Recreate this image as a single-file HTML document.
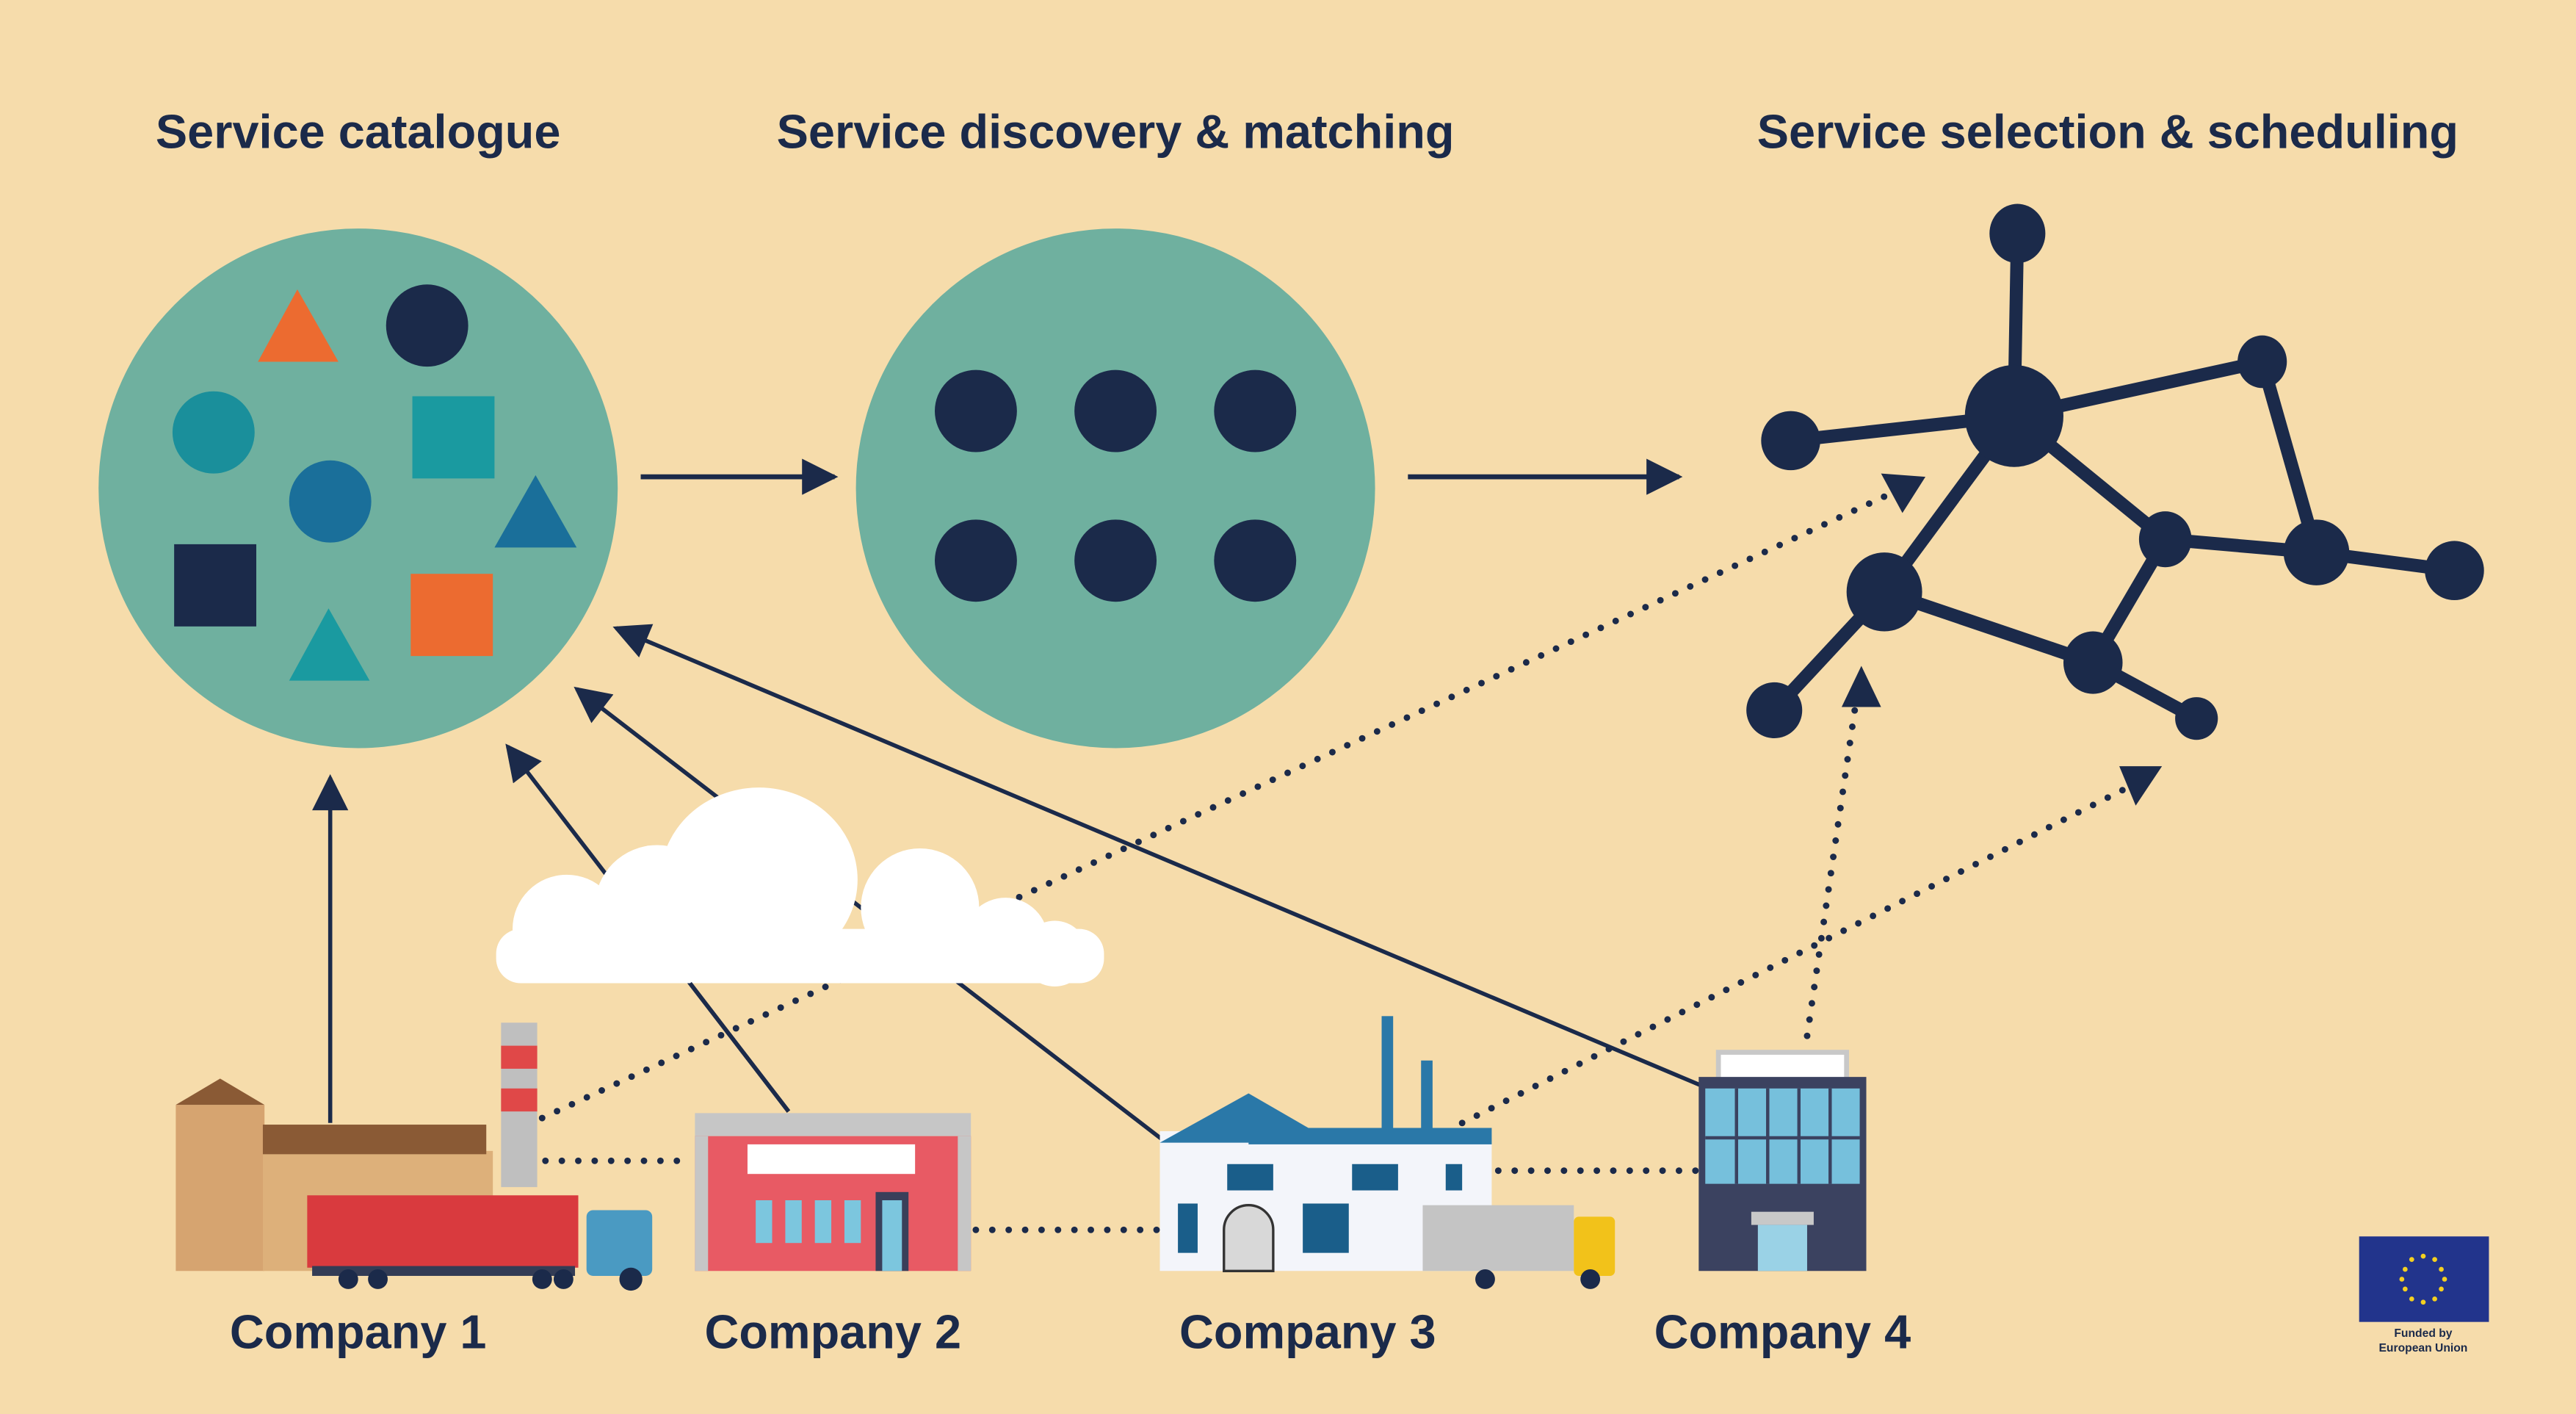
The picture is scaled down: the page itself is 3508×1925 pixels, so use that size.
<!DOCTYPE html>
<html><head><style>
html,body{margin:0;padding:0;background:#f6dcab;}
svg{display:block}
text{font-family:"Liberation Sans",sans-serif;font-weight:bold;fill:#1b2a4a}
</style></head><body>
<svg width="3508" height="1925" viewBox="0 0 1568 860" preserveAspectRatio="none" xmlns="http://www.w3.org/2000/svg">
<rect width="1568" height="860" fill="#f6dcab"/>
<defs>
<marker id="ah" viewBox="0 0 10 10" refX="9" refY="5" markerWidth="26" markerHeight="22" markerUnits="userSpaceOnUse" orient="auto"><path d="M0,0L10,5L0,10z" fill="#1b2a4a"/></marker>
<marker id="ab" viewBox="0 0 10 10" refX="8" refY="5" markerWidth="10" markerHeight="10" orient="auto"><path d="M0,0L10,5L0,10z" fill="#1b2a4a"/></marker>
</defs>
<text x="218" y="90" font-size="29" text-anchor="middle">Service catalogue</text>
<text x="679" y="90" font-size="29" text-anchor="middle">Service discovery &amp; matching</text>
<text x="1283" y="90" font-size="29" text-anchor="middle">Service selection &amp; scheduling</text>

<circle cx="218" cy="297" r="158" fill="#6fb09f"/>
<circle cx="679" cy="297" r="158" fill="#6fb09f"/>
<polygon points="181,176 157,220 206,220" fill="#ec6b30"/>
<circle cx="260" cy="198" r="25" fill="#1b2a4a"/>
<circle cx="130" cy="263" r="25" fill="#1a8f9b"/>
<rect x="251" y="241" width="50" height="50" fill="#1a9aa0"/>
<circle cx="201" cy="305" r="25" fill="#1a6f9a"/>
<polygon points="326,289 301,333 351,333" fill="#1a6f9a"/>
<rect x="106" y="331" width="50" height="50" fill="#1b2a4a"/>
<polygon points="200,370 176,414 225,414" fill="#1a9aa0"/>
<rect x="250" y="349" width="50" height="50" fill="#ec6b30"/>
<g fill="#1b2a4a">
<circle cx="594" cy="250" r="25"/><circle cx="679" cy="250" r="25"/><circle cx="764" cy="250" r="25"/>
<circle cx="594" cy="341" r="25"/><circle cx="679" cy="341" r="25"/><circle cx="764" cy="341" r="25"/>
</g>
<g stroke="#1b2a4a" stroke-width="3" fill="none">
<line x1="390" y1="290" x2="508" y2="290" marker-end="url(#ah)"/>
<line x1="857" y1="290" x2="1022" y2="290" marker-end="url(#ah)"/>
</g>
<!-- network -->
<g stroke="#1b2a4a" stroke-width="8">
<line x1="1226" y1="253" x2="1228" y2="142"/><line x1="1226" y1="253" x2="1090" y2="268"/>
<line x1="1226" y1="253" x2="1377" y2="220"/><line x1="1226" y1="253" x2="1318" y2="328"/>
<line x1="1226" y1="253" x2="1147" y2="360"/><line x1="1377" y1="220" x2="1410" y2="336"/>
<line x1="1318" y1="328" x2="1410" y2="336"/><line x1="1410" y1="336" x2="1494" y2="347"/>
<line x1="1318" y1="328" x2="1274" y2="403"/><line x1="1147" y1="360" x2="1274" y2="403"/>
<line x1="1147" y1="360" x2="1080" y2="432"/><line x1="1274" y1="403" x2="1337" y2="437"/>
</g>
<g fill="#1b2a4a">
<ellipse cx="1228" cy="142" rx="17" ry="18"/><ellipse cx="1226" cy="253" rx="30" ry="31"/>
<ellipse cx="1090" cy="268" rx="18" ry="18"/><ellipse cx="1377" cy="220" rx="15" ry="16"/>
<ellipse cx="1318" cy="328" rx="16" ry="17"/><ellipse cx="1410" cy="336" rx="20" ry="20"/>
<ellipse cx="1494" cy="347" rx="18" ry="18"/><ellipse cx="1147" cy="360" rx="23" ry="24"/>
<ellipse cx="1080" cy="432" rx="17" ry="17"/><ellipse cx="1274" cy="403" rx="18" ry="19"/>
<ellipse cx="1337" cy="437" rx="13" ry="13"/>
</g>
<!-- connectors -->
<g stroke="#1b2a4a" stroke-width="2.5" fill="none">
<line x1="201" y1="683" x2="201" y2="473" marker-end="url(#ah)"/>
<line x1="480" y1="676" x2="309" y2="454" marker-end="url(#ah)"/>
<line x1="710" y1="695" x2="351" y2="419" marker-end="url(#ah)"/>
<line x1="1035" y1="660" x2="375" y2="382" marker-end="url(#ah)"/>
</g>
<g stroke="#1b2a4a" stroke-width="4" stroke-linecap="round" stroke-dasharray="0 10" fill="none">
<line x1="330" y1="680" x2="1160" y2="296"/>
<line x1="890" y1="683" x2="1305" y2="474"/>
<line x1="1100" y1="630" x2="1131" y2="418"/>
<line x1="332" y1="706" x2="420" y2="706"/>
<line x1="594" y1="748" x2="705" y2="748"/>
<line x1="912" y1="712" x2="1033" y2="712"/>
</g>
<g fill="#1b2a4a">
<polygon points="1145,288 1172,290 1158,312"/>
<polygon points="1290,466 1316,466 1300,490"/>
<polygon points="1121,430 1133,405 1145,430"/>
</g>
<!-- cloud -->
<g fill="#fff">
<ellipse cx="462" cy="535" rx="60" ry="56"/><circle cx="560" cy="552" r="36"/><circle cx="400" cy="552" r="38"/>
<circle cx="345" cy="565" r="33"/><circle cx="612" cy="572" r="26"/><circle cx="642" cy="580" r="20"/>
<rect x="302" y="565" width="370" height="33" rx="15"/>
</g>
<line x1="480" y1="676" x2="420" y2="598" stroke="#1b2a4a" stroke-width="2.5"/>
<!-- Company 1 -->
<rect x="107" y="672" width="54" height="101" fill="#d6a470"/>
<polygon points="107,672 134,656 161,672" fill="#8a5a35"/>
<rect x="160" y="700" width="140" height="73" fill="#ddb07a"/>
<rect x="160" y="684" width="136" height="18" fill="#8a5a35"/>
<rect x="305" y="622" width="22" height="100" fill="#bfbfbf"/>
<rect x="305" y="636" width="22" height="14" fill="#e04848"/><rect x="305" y="662" width="22" height="14" fill="#e04848"/>
<rect x="187" y="727" width="165" height="44" fill="#d93a3e"/>
<rect x="190" y="770" width="160" height="6" fill="#333c55"/>
<rect x="357" y="736" width="40" height="40" rx="4" fill="#4a9ac2"/>
<g fill="#1b2a4a"><circle cx="212" cy="778" r="6"/><circle cx="230" cy="778" r="6"/><circle cx="330" cy="778" r="6"/><circle cx="343" cy="778" r="6"/><circle cx="384" cy="778" r="7"/></g>
<!-- Company 2 -->
<rect x="423" y="677" width="168" height="14" fill="#c6c6c6"/>
<rect x="423" y="691" width="168" height="82" fill="#e85a64"/>
<rect x="423" y="691" width="8" height="82" fill="#c6c6c6"/><rect x="583" y="691" width="8" height="82" fill="#c6c6c6"/>
<rect x="455" y="696" width="102" height="18" fill="#fff"/>
<g fill="#7cc6de"><rect x="460" y="730" width="10" height="26"/><rect x="478" y="730" width="10" height="26"/><rect x="496" y="730" width="10" height="26"/><rect x="514" y="730" width="10" height="26"/></g>
<rect x="533" y="725" width="20" height="48" fill="#3a3f5a"/><rect x="537" y="730" width="12" height="43" fill="#7cc6de"/>
<!-- Company 3 -->
<rect x="841" y="618" width="7" height="70" fill="#2a78a8"/><rect x="865" y="645" width="7" height="43" fill="#2a78a8"/>
<rect x="706" y="688" width="202" height="85" fill="#f3f5fa"/>
<polygon points="706,695 760,665 812,695" fill="#2a78a8"/>
<rect x="760" y="686" width="148" height="10" fill="#2a78a8"/>
<g fill="#1a5e8a"><rect x="747" y="708" width="28" height="16"/><rect x="823" y="708" width="28" height="16"/><rect x="880" y="708" width="10" height="16"/><rect x="717" y="732" width="12" height="30"/><rect x="793" y="732" width="28" height="30"/></g>
<path d="M745,773V748a15,15 0 0 1 30,0V773z" fill="#d8d8d8" stroke="#333" stroke-width="1.5"/>
<rect x="866" y="733" width="92" height="40" fill="#c4c4c4"/>
<rect x="958" y="740" width="25" height="36" rx="3" fill="#f2c21a"/>
<g fill="#1b2a4a"><circle cx="904" cy="778" r="6"/><circle cx="968" cy="778" r="6"/></g>
<!-- Company 4 -->
<rect x="1046" y="640" width="78" height="18" fill="#fff" stroke="#c8c8c8" stroke-width="3"/>
<rect x="1034" y="655" width="102" height="118" fill="#3b4260"/>
<rect x="1038" y="662" width="94" height="58" fill="#76c0dc"/>
<g stroke="#3b4260" stroke-width="2"><line x1="1057" y1="662" x2="1057" y2="720"/><line x1="1076" y1="662" x2="1076" y2="720"/><line x1="1095" y1="662" x2="1095" y2="720"/><line x1="1114" y1="662" x2="1114" y2="720"/><line x1="1038" y1="692" x2="1132" y2="692"/></g>
<rect x="1066" y="737" width="38" height="8" fill="#c8c8c8"/><rect x="1070" y="745" width="30" height="28" fill="#9ad2e6"/>
<text x="218" y="820" font-size="29" text-anchor="middle">Company 1</text>
<text x="507" y="820" font-size="29" text-anchor="middle">Company 2</text>
<text x="796" y="820" font-size="29" text-anchor="middle">Company 3</text>
<text x="1085" y="820" font-size="29" text-anchor="middle">Company 4</text>
<!-- EU -->
<rect x="1436" y="752" width="79" height="52" fill="#22348c"/>
<g fill="#f4d020">
<circle cx="1475" cy="764" r="1.5"/><circle cx="1482" cy="766" r="1.5"/><circle cx="1486" cy="772" r="1.5"/><circle cx="1488" cy="778" r="1.5"/><circle cx="1486" cy="784" r="1.5"/><circle cx="1482" cy="790" r="1.5"/><circle cx="1475" cy="792" r="1.5"/><circle cx="1468" cy="790" r="1.5"/><circle cx="1464" cy="784" r="1.5"/><circle cx="1462" cy="778" r="1.5"/><circle cx="1464" cy="772" r="1.5"/><circle cx="1468" cy="766" r="1.5"/>
</g>
<text x="1475" y="813" font-size="7" font-weight="normal" text-anchor="middle">Funded by</text>
<text x="1475" y="822" font-size="7" font-weight="normal" text-anchor="middle">European Union</text>
</svg>
</body></html>
